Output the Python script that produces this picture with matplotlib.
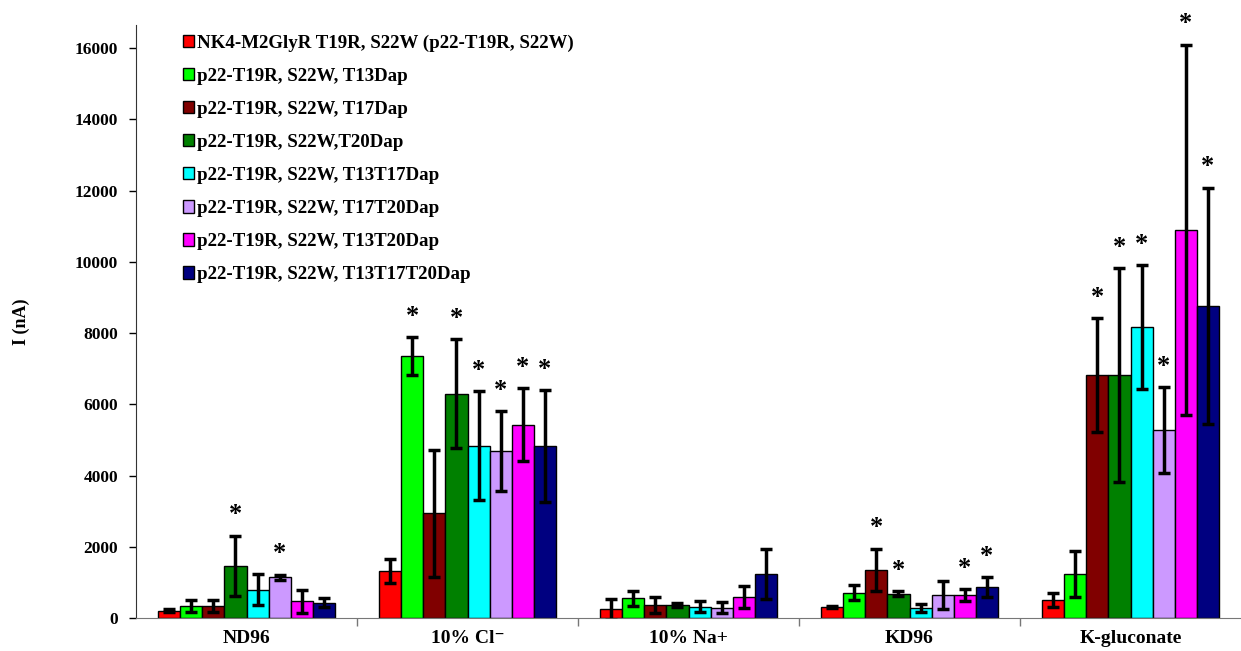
import numpy as np
import matplotlib
matplotlib.use('Agg')
import matplotlib.pyplot as plt

matplotlib.rcParams['font.family'] = ['Liberation Serif', 'DejaVu Serif']
matplotlib.rcParams['font.weight'] = 'bold'

categories = ['ND96', '10% Cl\u207b', '10% Na+', 'KD96', 'K-gluconate']

series_labels = [
    'NK4-M2GlyR T19R, S22W (p22-T19R, S22W)',
    'p22-T19R, S22W, T13Dap',
    'p22-T19R, S22W, T17Dap',
    'p22-T19R, S22W,T20Dap',
    'p22-T19R, S22W, T13T17Dap',
    'p22-T19R, S22W, T17T20Dap',
    'p22-T19R, S22W, T13T20Dap',
    'p22-T19R, S22W, T13T17T20Dap',
]
colors = ['#FF0000', '#00FF00', '#800000', '#008000',
          '#00FFFF', '#CC99FF', '#FF00FF', '#000080']

# mean current per series, one value per category (ND96, Cl, Na, KD96, K-gluc)
wt = [210, 1330, 240, 310, 500]
t13 = [345, 7360, 560, 710, 1240]
t17 = [345, 2940, 365, 1360, 6820]
t20 = [1460, 6290, 365, 680, 6820]
t13t17 = [795, 4840, 320, 280, 8170]
t17t20 = [1150, 4690, 290, 650, 5280]
t13t20 = [470, 5430, 590, 650, 10900]
t13t17t20 = [430, 4830, 1230, 875, 8760]

# error (+/-)
wt_err = [35, 335, 300, 30, 200]
t13_err = [170, 530, 210, 210, 650]
t17_err = [170, 1790, 225, 590, 1600]
t20_err = [850, 1530, 60, 70, 3000]
t13t17_err = [430, 1520, 160, 100, 1740]
t17t20_err = [70, 1120, 150, 400, 1200]
t13t20_err = [320, 1020, 310, 165, 5200]
t13t17t20_err = [120, 1560, 710, 280, 3320]

# significance markers (1 = star)
wt_sig = [0, 0, 0, 0, 0]
t13_sig = [0, 1, 0, 0, 0]
t17_sig = [0, 0, 0, 1, 1]
t20_sig = [1, 1, 0, 1, 1]
t13t17_sig = [0, 1, 0, 0, 1]
t17t20_sig = [1, 1, 0, 0, 1]
t13t20_sig = [0, 1, 0, 1, 1]
t13t17t20_sig = [0, 1, 0, 1, 1]

means = [wt, t13, t17, t20, t13t17, t17t20, t13t20, t13t17t20]
errs = [wt_err, t13_err, t17_err, t20_err, t13t17_err, t17t20_err, t13t20_err, t13t17t20_err]
sigs = [wt_sig, t13_sig, t17_sig, t20_sig, t13t17_sig, t17t20_sig, t13t20_sig, t13t17t20_sig]

fig = plt.figure(figsize=(12.41, 6.51), dpi=100)
ax = fig.add_axes([0.1096, 0.0507, 0.8904, 0.911])

x = np.arange(len(categories))
width = 0.1
for i in range(len(means)):
    pos = x - 0.35 + i * width
    ax.bar(pos, means[i], width, color=colors[i], edgecolor='black', linewidth=1,
           label=series_labels[i], zorder=2)
    ax.errorbar(pos, means[i], yerr=errs[i], fmt='none', ecolor='black',
                elinewidth=2.5, capsize=4, capthick=2.5, zorder=3)
    for j in range(len(categories)):
        if sigs[i][j]:
            ax.annotate('*', (pos[j], means[i][j] + errs[i][j]), xytext=(0, 15),
                        textcoords='offset points', ha='center', va='center',
                        fontsize=19, fontweight='bold')

ax.set_xlim(-0.5, 4.5)
ax.set_ylim(0, 16650)
ax.set_yticks(np.arange(0, 16001, 2000))
ax.set_yticklabels([str(v) for v in range(0, 16001, 2000)], fontsize=12.5, fontweight='bold')
ax.tick_params(axis='y', direction='out', length=5, width=1, pad=8)

ax.set_xticks(x)
ax.set_xticklabels(categories, fontsize=14, fontweight='bold')
ax.tick_params(axis='x', which='major', length=0, pad=9)
ax.set_xticks(np.arange(0.5, 4.5, 1), minor=True)
ax.tick_params(axis='x', which='minor', direction='out', length=6, width=1, color='#777777')

ax.spines['top'].set_visible(False)
ax.spines['right'].set_visible(False)
ax.spines['bottom'].set_color('#777777')
ax.spines['left'].set_color('#333333')

ax.set_ylabel('I (nA)', fontsize=13, fontweight='bold', labelpad=32)

ax.legend(loc='upper left', bbox_to_anchor=(0.036, 0.997), frameon=False,
          prop={'size': 13.6, 'weight': 'bold'}, handlelength=0.55, handleheight=0.65,
          handletextpad=0.15, labelspacing=0.85, borderaxespad=0.0)

fig.savefig('out.png', dpi=100)
